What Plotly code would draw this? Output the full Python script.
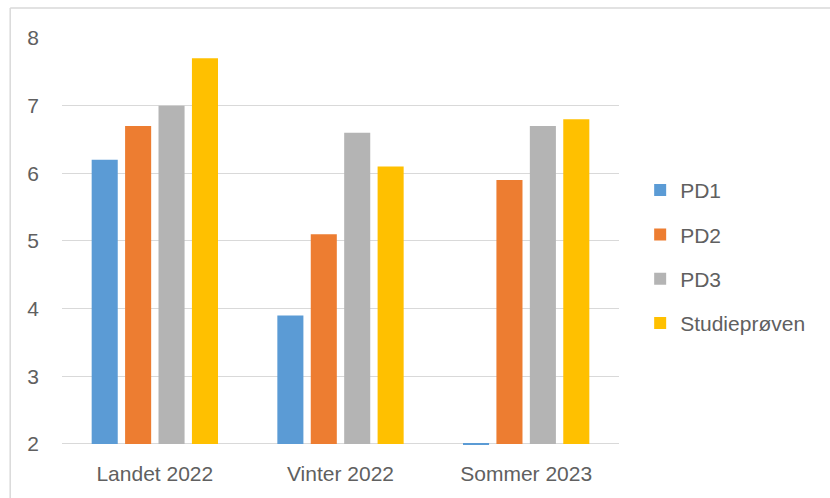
import plotly.graph_objects as go

categories = ["Landet 2022", "Vinter 2022", "Sommer 2023"]
series_names = ["PD1", "PD2", "PD3", "Studieprøven"]
pd1 = [6.2, 3.9, 1.98]
pd2 = [6.7, 5.1, 5.9]
pd3 = [7.0, 6.6, 6.7]
studie = [7.7, 6.1, 6.8]
colors = ["#5B9BD5", "#ED7D31", "#B4B4B4", "#FFC000"]
y_ticks = [2, 3, 4, 5, 6, 7, 8]

fig = go.Figure()
for name, vals, col in zip(series_names, [pd1, pd2, pd3, studie], colors):
    fig.add_trace(go.Bar(
        x=categories, y=[v - 2 for v in vals], base=2, name=name,
        marker=dict(color=col, line=dict(width=0)),
        legendgroup=name,
    ))

font = dict(family="Liberation Sans, Arial, sans-serif", size=21, color="#606060")
fig.update_layout(
    width=830, height=498,
    margin=dict(l=62, r=211, t=38, b=53),
    paper_bgcolor="white", plot_bgcolor="white",
    barmode="group", bargap=0.28, bargroupgap=0.22,
    font=font,
    showlegend=True,
    legend=dict(x=1.038, y=0.462, xanchor="left", yanchor="middle",
                tracegroupgap=14, font=font, itemwidth=30),
    xaxis=dict(showgrid=False, showline=False, ticks="", tickfont=font,
               ticklabelstandoff=14),
    yaxis=dict(range=[1.985, 8], tickvals=y_ticks, showgrid=True,
               gridcolor="#D9D9D9", gridwidth=1.3, zeroline=False,
               showline=False, ticks="", tickfont=font, ticklabelstandoff=22),
    shapes=[
        dict(type="line", xref="paper", yref="paper", x0=-0.093, x1=1.5,
             y0=1.074, y1=1.074, line=dict(color="#D9D9D9", width=1.5)),
        dict(type="line", xref="paper", yref="paper", x0=-0.093, x1=-0.093,
             y0=-0.2, y1=1.074, line=dict(color="#D9D9D9", width=1.5)),
    ],
)
fig.write_html("out.html", config={"displayModeBar": False},
               post_script="document.body.style.margin='0';")
